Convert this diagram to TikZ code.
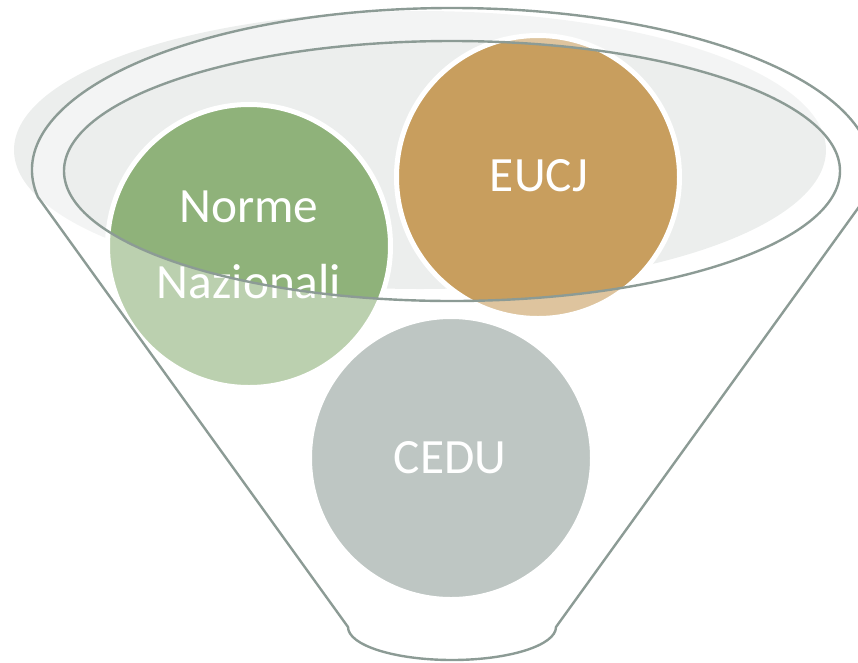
\documentclass[tikz,border=0pt]{standalone}
\usepackage{fontspec}
\setmainfont{Carlito}
\definecolor{rimgray}{RGB}{140,155,149}
\definecolor{bowlgray}{RGB}{236,238,237}
\definecolor{greenball}{RGB}{143,178,122}
\definecolor{goldball}{RGB}{200,158,94}
\definecolor{grayball}{RGB}{190,198,195}
\begin{document}
\begin{tikzpicture}[x=0.75pt,y=0.75pt,
  ball/.style={circle, draw=white, line width=3.75pt, minimum size=212.25pt, inner sep=0pt},
  lbl/.style={text=white, font=\fontsize{37}{44}\selectfont, anchor=base, inner sep=0pt},
  rim/.style={draw=rimgray, line width=1.8pt}]
\useasboundingbox (0,0) rectangle (858,-662);
% light bowl ellipse
\fill[bowlgray] (420,-150) ellipse [x radius=304.5pt, y radius=104.25pt];
% circles behind the funnel
\node[ball, fill=greenball] (norme) at (249,-246) {};
\node[ball, fill=goldball] (eucj) at (538,-177) {};
\node[lbl] (t1) at (249,-222) {Norme};
\node[lbl] (t2) at (249,-298) {Nazionali};
\node[lbl] (t3) at (539,-191) {EUCJ};
% translucent funnel body (without the inner opening)
\fill[white, opacity=0.4, even odd rule]
  (37.9,-197) arc[start angle=189.6, end angle=-9.6, x radius=315pt, y radius=121.5pt]
  -- (556,-627) arc[start angle=0, end angle=-180, x radius=78pt, y radius=24.75pt] -- cycle
  (452,-171) ellipse [x radius=291pt, y radius=97.5pt];
% funnel outlines
\draw[rim, line join=round]
  (37.9,-197) arc[start angle=189.6, end angle=-9.6, x radius=315pt, y radius=121.5pt]
  -- (556,-627) arc[start angle=0, end angle=-180, x radius=78pt, y radius=24.75pt] -- cycle;
\draw[rim] (452,-171) ellipse [x radius=291pt, y radius=97.5pt];
% front circle
\node[ball, fill=grayball] (cedu) at (451,-458) {};
\node[lbl] (t4) at (450,-473) {CEDU};
\end{tikzpicture}
\end{document}
